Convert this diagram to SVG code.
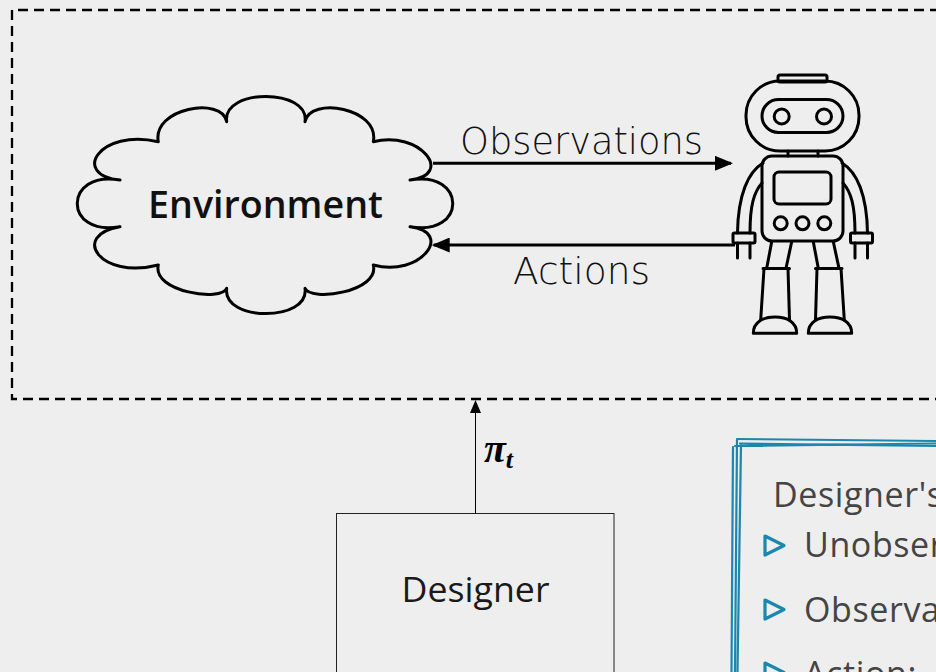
<svg xmlns="http://www.w3.org/2000/svg" width="936" height="672" viewBox="0 0 936 672">
  <style>
    .ink { fill: none; stroke: #000; stroke-width: 3; stroke-linecap: round; stroke-linejoin: round; }
    .hand { font-family: "DejaVu Sans", "Liberation Sans", sans-serif; font-weight: 200; fill: #111; }
    .label { font-family: "Open Sans", "Noto Sans", sans-serif; }
    .teal { fill: none; stroke: #1b87ad; stroke-width: 2.2; stroke-linecap: round; stroke-linejoin: round; }
    .bullet { fill: none; stroke: #1b87ad; stroke-width: 3.2; stroke-linejoin: round; }
    .note { font-family: "Open Sans", "Noto Sans", sans-serif; font-size: 34px; letter-spacing: 0.6px; fill: #444; }
  </style>
  <defs>
    <marker id="head" viewBox="0 0 18 15" refX="16" refY="7.5" markerWidth="18" markerHeight="15" markerUnits="userSpaceOnUse" orient="auto">
      <path d="M0,0 L18,7.5 L0,15 Z" fill="#000"/>
    </marker>
    <marker id="headThin" viewBox="0 0 13 11" refX="12" refY="5.5" markerWidth="13" markerHeight="11" markerUnits="userSpaceOnUse" orient="auto">
      <path d="M0,0 L13,5.5 L0,11 Z" fill="#000"/>
    </marker>
  </defs>

  <rect width="936" height="672" fill="#eeeeee"/>

  <!-- system boundary -->
  <g id="system">
    <path d="M940,10 H12 V399 H940" fill="none" stroke="#000" stroke-width="2.3" stroke-dasharray="10 6"/>
  </g>

  <!-- environment cloud -->
  <g id="environment">
    <path class="ink" d="M120,180
      C70,175 100,128 158.3,141.7
      C152,108 222,96 226.7,121.7
      C222,88 310,88 305,121.7
      C310,96 380,108 373.3,141.7
      C420,130 455,175 410,180
      C467,170 467,237 410,226.7
      C455,232 420,278 373.3,265
      C380,292 310,302 305,288.3
      C310,322 222,322 226.7,288.3
      C222,302 152,292 158.3,265
      C100,280 70,235 120,226.7
      C63,237 63,170 120,180 Z"/>
    <text x="265.5" y="218" text-anchor="middle" textLength="235" lengthAdjust="spacingAndGlyphs" font-family="'Open Sans', 'Noto Sans', sans-serif" font-weight="600" font-size="37" fill="#111">Environment</text>
  </g>

  <!-- agent (robot) -->
  <g id="agent" class="ink">
    <rect x="778" y="75" width="49" height="7" rx="2"/>
    <rect x="746" y="81" width="113" height="70" rx="34"/>
    <rect x="762" y="99.5" width="81" height="33" rx="16.5"/>
    <circle cx="781.7" cy="116.5" r="7.5"/>
    <circle cx="824" cy="116.5" r="7.5"/>
    <path d="M788,151 V156 M818,151 V156"/>
    <rect x="762" y="156" width="81" height="85" rx="10"/>
    <rect x="774" y="172" width="57" height="32" rx="5"/>
    <circle cx="780.7" cy="223.3" r="6.5"/>
    <circle cx="802.5" cy="223.3" r="6.5"/>
    <circle cx="824.3" cy="223.3" r="6.5"/>
    <!-- arms -->
    <path d="M763,163 C748,172 738,195 737.5,233 M762,183 C754,192 750,205 750,233"/>
    <rect x="733" y="233" width="22" height="10" rx="1.5"/>
    <path d="M737.5,243 V258 M750,243 V258"/>
    <path d="M842,163 C857,172 867,195 867.5,233 M843,183 C851,192 855,205 855,233"/>
    <rect x="850.5" y="233" width="22" height="10" rx="1.5"/>
    <path d="M855,243 V258 M867.5,243 V258"/>
    <!-- legs -->
    <path d="M771.7,241.7 L766.7,268.3 M791.7,241.7 L786,268.3 M763,268.5 H789.5 M764,268.5 L760.7,320 M788,268.5 L789.5,320"/>
    <path d="M753.3,333.3 C753.3,322 763,317 775,317 C787,317 796.7,322 796.7,333.3 Z"/>
    <path d="M813.3,241.7 L818.3,268.3 M833.3,241.7 L839,268.3 M815.5,268.5 H842 M817,268.5 L815.5,320 M841,268.5 L844.3,320"/>
    <path d="M808.3,333.3 C808.3,322 818,317 830,317 C842,317 851.7,322 851.7,333.3 Z"/>
  </g>

  <!-- designer -->
  <g id="designer">
    <rect x="336.5" y="513.5" width="277.5" height="170" fill="none" stroke="#222" stroke-width="1"/>
    <text class="label" x="475.5" y="601.5" text-anchor="middle" font-size="34" textLength="148" lengthAdjust="spacingAndGlyphs" fill="#1a1a1a">Designer</text>
  </g>

  <!-- designer's knowledge panel -->
  <g id="knowledge">
    <path class="teal" d="M737,439 L936,441 M740,443.5 L936,446 M735,446 L936,443.5"/>
    <path class="teal" d="M733,447 L731.5,672 M737,440 L735,672 M741,445 L737.5,672"/>
    <text class="note" x="773" y="507">Designer's</text>
    <path class="bullet" d="M765,536 L784,545.5 L765,555 Z"/>
    <text class="note" x="804" y="557">Unobser</text>
    <path class="bullet" d="M765,600 L784,609.5 L765,619 Z"/>
    <text class="note" x="804" y="622">Observa</text>
    <path class="bullet" d="M765,663 L784,672.5 L765,682 Z"/>
    <text class="note" x="804" y="686">Action:</text>
  </g>

  <!-- connectors -->
  <g id="connectors">
    <line x1="433" y1="163.3" x2="731" y2="163.3" stroke="#000" stroke-width="3" marker-end="url(#head)"/>
    <text class="hand" x="460" y="154" font-size="38" textLength="243" lengthAdjust="spacingAndGlyphs">Observations</text>
    <line x1="735" y1="245" x2="433.7" y2="245" stroke="#000" stroke-width="3" marker-end="url(#head)"/>
    <text class="hand" x="513" y="284" font-size="38" textLength="137" lengthAdjust="spacingAndGlyphs">Actions</text>
    <line x1="475.5" y1="513.5" x2="475.5" y2="401" stroke="#000" stroke-width="1" marker-end="url(#headThin)"/>
    <text x="484" y="462" font-family="'Liberation Serif', 'DejaVu Serif', serif" font-style="italic" font-weight="bold" font-size="40" fill="#000">π<tspan font-size="26" dy="6">t</tspan></text>
  </g>
</svg>
